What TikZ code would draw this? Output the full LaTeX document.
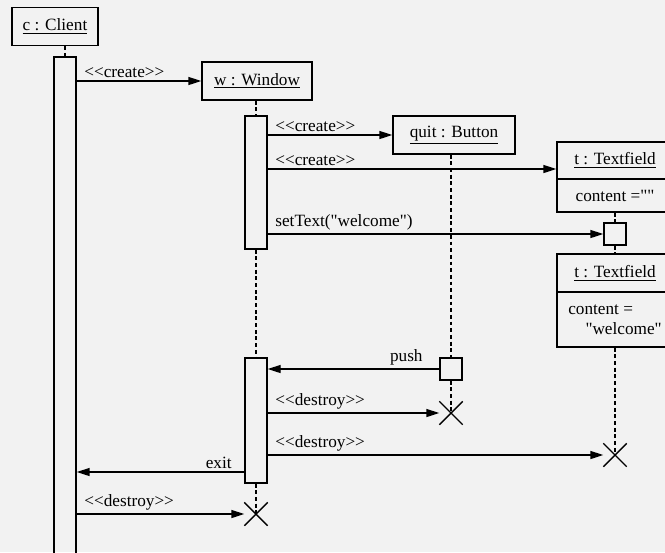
\documentclass[tikz,border=0pt]{standalone}
\usepackage{fontspec}
\setmainfont{Liberation Serif}[Ligatures=TeXOff]
\usetikzlibrary{positioning,arrows.meta,shapes.misc}
\newcommand{\stereo}[1]{<\kern0pt<#1>\kern0pt>}

\begin{document}
\begin{tikzpicture}[
    x=0.02cm, y=-0.02cm,
    font=\fontsize{9.8}{11.5}\selectfont,
    >={Triangle[length=2.6mm,width=1.6mm]},
    obj/.style={
        draw=black,
        line width=0.8pt,
        align=center,
        inner sep=0pt,
        minimum height=0.76cm
    },
    act/.style={
        draw=black,
        line width=0.8pt,
        inner sep=0pt,
        minimum width=0.44cm
    },
    life/.style={
        draw=black,
        line width=0.8pt,
        dash pattern=on 2.2pt off 1.6pt
    },
    msg/.style={->, line width=0.8pt},
    lbl/.style={anchor=south west, inner sep=0pt, xshift=0.14cm, yshift=0.06cm},
    lblr/.style={anchor=south east, inner sep=0pt, yshift=0.06cm},
    xmark/.style={
        cross out,
        draw=black,
        line width=0.8pt,
        inner sep=0pt,
        minimum size=0.44cm
    }
]

\fill[black!5] (0,0) rectangle (665,552);
\useasboundingbox (0,0) rectangle (665,552);

\node[obj, minimum width=1.72cm] (client) at (55,26.5) {\underline{c : Client}};
\node[act, minimum height=10.06cm] (cact) at (65,308.5) {};

\node[obj, minimum width=2.2cm] (win) at (257,81) {\underline{w : Window}};
\node[act, minimum height=2.66cm] (wact1) at (256,182.5) {};
\node[act, minimum height=2.5cm] (wact2) at (256,420.5) {};
\node[xmark] (winx) at (256,514) {};

\node[obj, minimum width=2.44cm] (btn) at (454,135) {\underline{quit : Button}};
\node[act, minimum height=0.44cm] (bact) at (451,369) {};
\node[xmark] (btnx) at (451,413) {};

\node[obj, minimum width=2.32cm, minimum height=0.74cm] (tf1) at (615,160.5) {\underline{t : Textfield}};
\node[obj, minimum width=2.32cm, minimum height=0.66cm, below=-0.8pt of tf1] (tf1v) {content =""};
\node[act, minimum height=0.44cm] (tact) at (615,234) {};
\node[obj, minimum width=2.32cm] (tf2) at (615,273) {\underline{t : Textfield}};
\node[obj, minimum width=2.32cm, minimum height=1.1cm, below=-0.8pt of tf2, align=left] (tf2v) {content =\\\hspace*{1em}"welcome"};
\node[xmark] (tfx) at (615,455) {};

\coordinate (m3) at (0,169);
\coordinate (m8) at (0,472);

\draw[life] (client.south -| cact) -- (cact.north);
\draw[life] (win.south -| wact1) -- (wact1.north);
\draw[life] (wact1.south) -- (wact2.north);
\draw[life] (wact2.south) -- (winx.center);
\draw[life] (btn.south -| bact) -- (bact.north);
\draw[life] (bact.south) -- (btnx.center);
\draw[life] (tf1v.south) -- (tact.north);
\draw[life] (tact.south) -- (tf2.north);
\draw[life] (tf2v.south) -- (tfx.center);

\draw[msg] (cact.east |- win.west) node[lbl] {\stereo{create}} -- (win.west);
\draw[msg] (wact1.east |- btn.west) node[lbl] {\stereo{create}} -- (btn.west);
\draw[msg] (wact1.east |- m3) node[lbl] {\stereo{create}} -- (tf1.west |- m3);
\draw[msg] (wact1.east |- tact.west) node[lbl] {setText("welcome")} -- (tact.west);
\draw[msg] (bact.west) node[lblr, xshift=-0.32cm] {push} -- (wact2.east |- bact.west);
\draw[msg] (wact2.east |- btnx.west) node[lbl] {\stereo{destroy}} -- (btnx.west);
\draw[msg] (wact2.east |- tfx.west) node[lbl] {\stereo{destroy}} -- (tfx.west);
\draw[msg] (wact2.west |- m8) node[lblr, xshift=-0.24cm] {exit} -- (cact.east |- m8);
\draw[msg] (cact.east |- winx.west) node[lbl] {\stereo{destroy}} -- (winx.west);

\end{tikzpicture}
\end{document}
